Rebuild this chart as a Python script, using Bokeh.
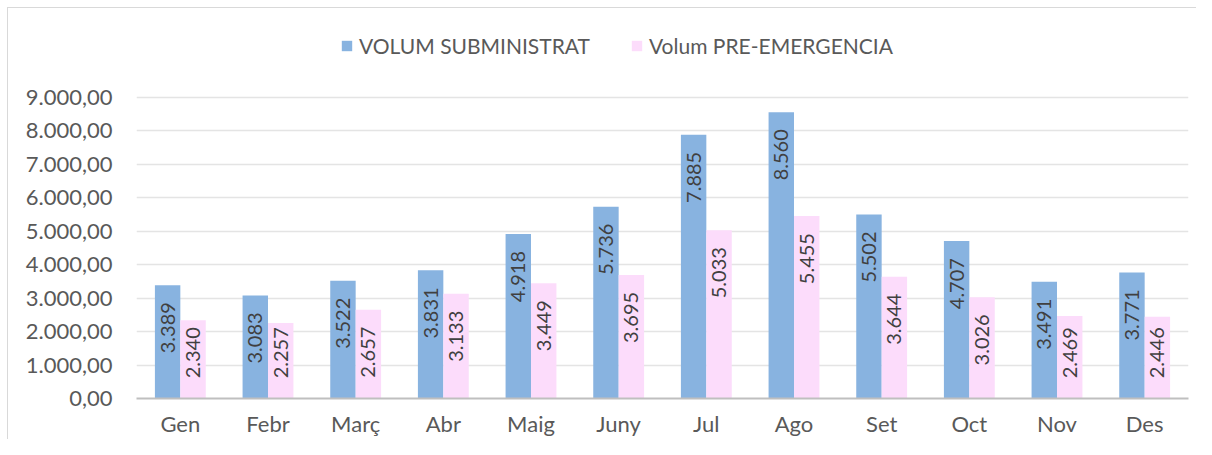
import numpy as np
from bokeh.plotting import figure
from bokeh.models import (ColumnDataSource, FactorRange, Range1d, FixedTicker,
                          CustomJSTickFormatter, Legend, LegendItem)
from bokeh.transform import dodge
from bokeh.core.properties import value
from bokeh.embed import file_html
from bokeh.resources import INLINE

months = ["Gen", "Febr", "Març", "Abr", "Maig", "Juny", "Jul", "Ago", "Set", "Oct", "Nov", "Des"]
subministrat = [3389, 3083, 3522, 3831, 4918, 5736, 7885, 8560, 5502, 4707, 3491, 3771]
pre_emergencia = [2340, 2257, 2657, 3133, 3449, 3695, 5033, 5455, 3644, 3026, 2469, 2446]
sub_labels = ["3.389", "3.083", "3.522", "3.831", "4.918", "5.736", "7.885", "8.560", "5.502", "4.707", "3.491", "3.771"]
pre_labels = ["2.340", "2.257", "2.657", "3.133", "3.449", "3.695", "5.033", "5.455", "3.644", "3.026", "2.469", "2.446"]
y_ticks = [0, 1000, 2000, 3000, 4000, 5000, 6000, 7000, 8000, 9000]
y_tick_labels = ["0,00", "1.000,00", "2.000,00", "3.000,00", "4.000,00", "5.000,00",
                 "6.000,00", "7.000,00", "8.000,00", "9.000,00"]
series_names = ["VOLUM SUBMINISTRAT", "Volum PRE-EMERGENCIA"]

BLUE = "#88B3E0"
PINK = "#FCDCFB"
FONT = "Lato"

# label anchor: inside end, but never pushed too close to the axis (Excel behaviour)
MIN_ANCHOR = 2640
src = ColumnDataSource(dict(
    month=months,
    sub=subministrat,
    pre=pre_emergencia,
    sub_lab=sub_labels,
    pre_lab=pre_labels,
    sub_ly=np.maximum(np.array(subministrat), MIN_ANCHOR),
    pre_ly=np.maximum(np.array(pre_emergencia), MIN_ANCHOR),
))

W, H = 1196, 439
TOP, BOTTOM, LEFT, RIGHT = 12, 41, 136, 8
frame_h = H - TOP - BOTTOM
# the plot area keeps headroom above 9.000 for the legend
y_end = 9000 * frame_h / 301.0

p = figure(width=W, height=H, x_range=FactorRange(*months, range_padding=0),
           y_range=Range1d(0, y_end), output_backend="svg", toolbar_location=None,
           min_border_left=LEFT, min_border_right=RIGHT, min_border_top=TOP, min_border_bottom=BOTTOM)
p.outline_line_color = None
p.background_fill_color = "white"
p.border_fill_alpha = 0
# faint chart-area border (top and left edges) drawn behind the transparent canvas border
p.styles = {
    "background-color": "white",
    "background-image": ("linear-gradient(#D9D9D9, #D9D9D9), "
                         "linear-gradient(#D9D9D9, #D9D9D9)"),
    "background-position": "7px 7px, 7px 7px",
    "background-size": "100% 1px, 1px 100%",
    "background-repeat": "no-repeat, no-repeat",
}

bw = 0.29
r1 = p.vbar(x=dodge("month", -bw / 2, range=p.x_range), top="sub", width=bw, source=src,
            fill_color=BLUE, line_color=None)
r2 = p.vbar(x=dodge("month", bw / 2, range=p.x_range), top="pre", width=bw, source=src,
            fill_color=PINK, line_color=None)

for xo, ycol, tcol in [(-bw / 2, "sub_ly", "sub_lab"), (bw / 2, "pre_ly", "pre_lab")]:
    p.text(x=dodge("month", xo, range=p.x_range), y=ycol, text=tcol, source=src,
           angle=np.pi / 2, text_align="right", text_baseline="middle",
           y_offset=17, text_font=value(FONT), text_font_size="20px", text_color="#404040")

# axes
p.xaxis.axis_line_color = "#BFBFBF"
p.xaxis.axis_line_width = 2
p.xaxis.major_tick_line_color = None
p.xaxis.minor_tick_line_color = None
p.xaxis.major_tick_out = 0
p.xaxis.major_tick_in = 0
p.xaxis.major_label_standoff = 11
p.xaxis.major_label_text_font = FONT
p.xaxis.major_label_text_font_size = "22px"
p.xaxis.major_label_text_color = "#595959"

p.yaxis.axis_line_color = None
p.yaxis.major_tick_line_color = None
p.yaxis.minor_tick_line_color = None
p.yaxis.major_tick_out = 0
p.yaxis.major_tick_in = 0
p.yaxis.ticker = FixedTicker(ticks=y_ticks)
p.yaxis.formatter = CustomJSTickFormatter(args=dict(labels=y_tick_labels),
                                          code="return labels[Math.round(tick / 1000)];")
p.yaxis.major_label_standoff = 24
p.yaxis.major_label_text_font = FONT
p.yaxis.major_label_text_font_size = "22px"
p.yaxis.major_label_text_color = "#595959"

p.xgrid.grid_line_color = None
p.ygrid.grid_line_color = "#E4E4E4"
p.ygrid.grid_line_width = 1.5

legend = Legend(items=[LegendItem(label=series_names[0], renderers=[r1]),
                       LegendItem(label=series_names[1], renderers=[r2])],
                orientation="horizontal", location=(204, 340),
                glyph_width=13, glyph_height=13, label_standoff=6, spacing=40,
                padding=0, margin=0, border_line_color=None, background_fill_alpha=0,
                label_text_font=FONT, label_text_font_size="21px", label_text_color="#595959")
p.add_layout(legend, "center")

open("out.html", "w").write(file_html(p, INLINE))
